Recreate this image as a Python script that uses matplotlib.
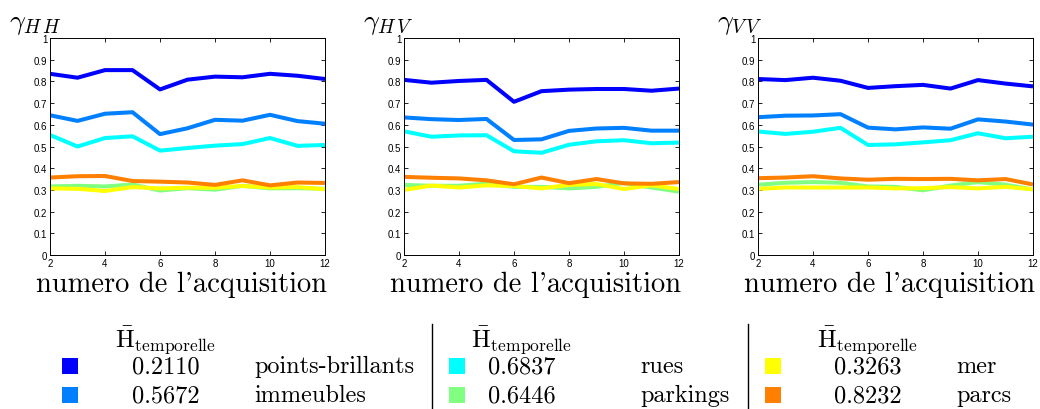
import matplotlib
matplotlib.use("Agg")
import matplotlib.pyplot as plt
from matplotlib.patches import Rectangle
from matplotlib.lines import Line2D

plt.rcParams['mathtext.fontset'] = 'cm'

# acquisition index
acq = list(range(2, 13))

# gamma_HH
hh_points = [0.835, 0.817, 0.852, 0.852, 0.763, 0.808, 0.822, 0.819, 0.835, 0.826, 0.811]
hh_immeubles = [0.644, 0.618, 0.651, 0.658, 0.557, 0.584, 0.623, 0.619, 0.646, 0.617, 0.605]
hh_rues = [0.553, 0.500, 0.539, 0.547, 0.481, 0.493, 0.504, 0.511, 0.539, 0.503, 0.507]
hh_parkings = [0.316, 0.319, 0.316, 0.325, 0.297, 0.308, 0.301, 0.319, 0.307, 0.308, 0.305]
hh_mer = [0.307, 0.305, 0.295, 0.313, 0.307, 0.310, 0.310, 0.318, 0.311, 0.313, 0.303]
hh_parcs = [0.357, 0.363, 0.364, 0.341, 0.338, 0.334, 0.323, 0.344, 0.321, 0.334, 0.332]

# gamma_HV
hv_points = [0.807, 0.794, 0.802, 0.807, 0.706, 0.755, 0.762, 0.765, 0.765, 0.757, 0.767]
hv_immeubles = [0.634, 0.626, 0.622, 0.627, 0.530, 0.533, 0.572, 0.583, 0.586, 0.573, 0.573]
hv_rues = [0.570, 0.545, 0.551, 0.552, 0.478, 0.471, 0.508, 0.524, 0.529, 0.515, 0.518]
hv_parkings = [0.323, 0.319, 0.319, 0.329, 0.314, 0.314, 0.307, 0.314, 0.332, 0.311, 0.292]
hv_mer = [0.300, 0.320, 0.311, 0.321, 0.318, 0.307, 0.323, 0.327, 0.304, 0.321, 0.304]
hv_parcs = [0.360, 0.356, 0.353, 0.344, 0.326, 0.357, 0.331, 0.350, 0.330, 0.328, 0.336]

# gamma_VV
vv_points = [0.811, 0.806, 0.817, 0.803, 0.770, 0.778, 0.784, 0.767, 0.806, 0.790, 0.777]
vv_immeubles = [0.635, 0.642, 0.643, 0.649, 0.587, 0.579, 0.588, 0.582, 0.625, 0.615, 0.601]
vv_rues = [0.569, 0.558, 0.568, 0.586, 0.507, 0.510, 0.519, 0.529, 0.561, 0.538, 0.545]
vv_parkings = [0.324, 0.333, 0.336, 0.333, 0.316, 0.314, 0.298, 0.320, 0.336, 0.324, 0.302]
vv_mer = [0.305, 0.311, 0.311, 0.311, 0.311, 0.307, 0.308, 0.313, 0.307, 0.314, 0.303]
vv_parcs = [0.354, 0.357, 0.363, 0.353, 0.347, 0.351, 0.350, 0.351, 0.344, 0.350, 0.325]

classes = ['points-brillants', 'immeubles', 'rues', 'parkings', 'mer', 'parcs']
h_temp = ['0.2110', '0.5672', '0.6837', '0.6446', '0.3263', '0.8232']
colors = ['#0000ff', '#0080ff', '#00ffff', '#80ff80', '#ffff00', '#ff8000']
# draw order (back to front)
order = [3, 4, 5, 2, 1, 0]

titles = [r'$\gamma_{H\,H}$', r'$\gamma_{H\,V}$', r'$\gamma_{V\,V}$']
panels = [
    [hh_points, hh_immeubles, hh_rues, hh_parkings, hh_mer, hh_parcs],
    [hv_points, hv_immeubles, hv_rues, hv_parkings, hv_mer, hv_parcs],
    [vv_points, vv_immeubles, vv_rues, vv_parkings, vv_mer, vv_parcs],
]

W, H = 1040, 410
fig = plt.figure(figsize=(10.4, 4.1), dpi=100)

lefts = [50, 404, 758]
for left, title, series in zip(lefts, titles, panels):
    ax = fig.add_axes([left / W, (H - 256) / H, 275 / W, 217 / H])
    for i in order:
        ax.plot(acq, series[i], color=colors[i], lw=2.9, solid_capstyle='butt')
    ax.set_xlim(2, 12)
    ax.set_ylim(0, 1)
    ax.set_xticks([2, 4, 6, 8, 10, 12])
    ax.set_yticks([i / 10 for i in range(11)])
    ax.set_yticklabels(['0'] + ['0.%d' % i for i in range(1, 10)] + ['1'])
    ax.tick_params(direction='in', length=3, width=0.6, top=True, right=True,
                   labelsize=7, pad=2)
    for lab in ax.get_xticklabels() + ax.get_yticklabels():
        lab.set_family('Liberation Sans')
    for s in ax.spines.values():
        s.set_linewidth(0.7)
    ax.set_xlabel("numero de l'acquisition", family='cmr10', fontsize=20.5)
    ax.xaxis.set_label_coords(0.5 - 6 / 275, -0.07)
    fig.text((left - 41) / W, (H - 29) / H, title, fontsize=20, ha='left', va='baseline')

# legend block
groups = [[0, 1], [2, 3], [4, 5]]
sq_x = [62, 449, 765]
num_x = [166, 522, 868]
lab_x = [254, 640, 956]
row_y = [367, 396]
for g, idx in enumerate(groups):
    fig.text(num_x[g] / W, (H - 347) / H, r'$\bar{\mathrm{H}}_{\mathrm{temporelle}}$',
             fontsize=18, ha='center', va='baseline')
    for r, i in enumerate(idx):
        y = row_y[r]
        fig.add_artist(Rectangle((sq_x[g] / W, (H - y - 8) / H), 16 / W, 16 / H,
                                 transform=fig.transFigure, color=colors[i], lw=0))
        fig.text(num_x[g] / W, (H - y) / H, h_temp[i], family='cmr10', fontsize=17.5,
                 ha='center', va='center')
        fig.text(lab_x[g] / W, (H - y) / H, classes[i], family='cmr10', fontsize=17.5,
                 ha='left', va='center')

for xs in [432, 748]:
    fig.add_artist(Line2D([xs / W, xs / W], [0, (H - 325) / H],
                          transform=fig.transFigure, color='black', lw=1))

fig.savefig('out.png', dpi=100)
